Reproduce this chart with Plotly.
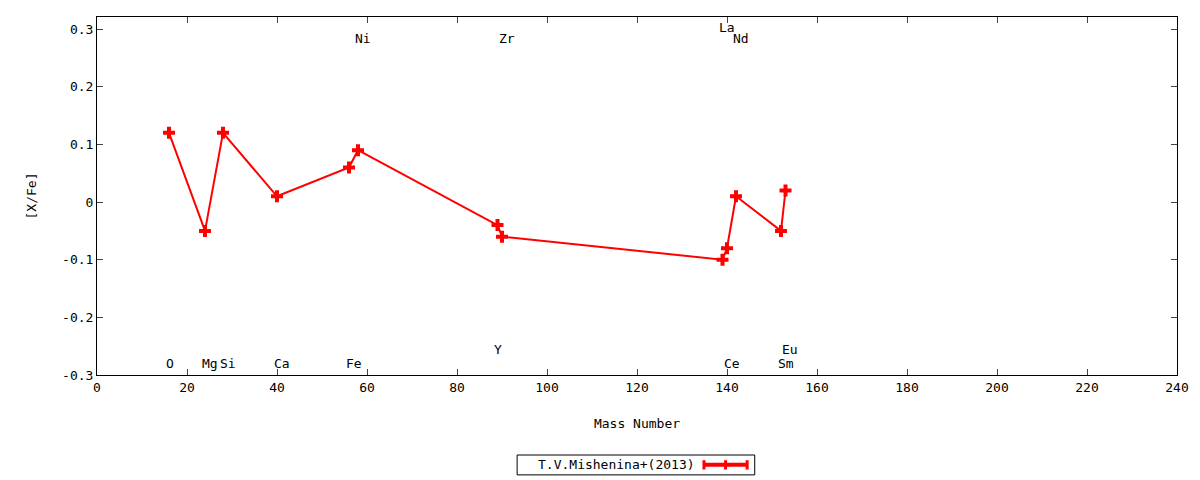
import plotly.graph_objects as go

# element abundances [X/Fe] vs mass number
elements = ["O", "Mg", "Si", "Ca", "Fe", "Ni", "Y", "Zr", "La", "Ce", "Nd", "Sm", "Eu"]
mass_number = [16, 24, 28, 40, 56, 58, 89, 90, 139, 140, 142, 152, 153]
x_fe = [0.12, -0.05, 0.12, 0.01, 0.06, 0.09, -0.04, -0.06, -0.10, -0.08, 0.01, -0.05, 0.02]
# label rows: where each element name is written
label_y = [-0.28, -0.28, -0.28, -0.28, -0.28, 0.284, -0.256, 0.284, 0.302, -0.28, 0.284, -0.28, -0.256]

y_ticks = [-0.3, -0.2, -0.1, 0, 0.1, 0.2, 0.3]
y_tick_text = ["-0.3", "-0.2", "-0.1", "0", "0.1", "0.2", "0.3"]

font = "DejaVu Sans Mono"
red = "#ff0000"
fsize = 13

fig = go.Figure()
fig.add_trace(go.Scatter(x=mass_number, y=x_fe, mode="lines+markers",
                         name="T.V.Mishenina+(2013)",
                         line=dict(color=red, width=2),
                         marker=dict(symbol="cross", size=10, color=red),
                         showlegend=False))

for el, m, ly in zip(elements, mass_number, label_y):
    fig.add_annotation(x=m - 1.2, y=ly, text=el, showarrow=False, xanchor="left",
                       font=dict(family=font, size=fsize, color="black"))

# legend box drawn by hand (gnuplot style: text left, sample right)
fig.add_shape(type="rect", xref="paper", yref="paper", x0=0.389, x1=0.609, y0=-0.279, y1=-0.2235,
              line=dict(color="black", width=1))
fig.add_annotation(xref="paper", yref="paper", x=0.556, y=-0.251, text="T.V.Mishenina+(2013)",
                   showarrow=False, xanchor="right", yanchor="middle",
                   font=dict(family=font, size=fsize, color="black"))
fig.add_shape(type="line", xref="paper", yref="paper", x0=0.562, x1=0.602, y0=-0.251, y1=-0.251,
              line=dict(color=red, width=4))
for lx in [0.562, 0.582, 0.602]:
    fig.add_shape(type="line", xref="paper", yref="paper", x0=lx, x1=lx, y0=-0.264, y1=-0.238,
                  line=dict(color=red, width=3))

fig.update_layout(
    width=1192, height=472,
    margin=dict(l=89, r=23, t=9, b=105),
    plot_bgcolor="white", paper_bgcolor="white",
    font=dict(family=font, size=fsize, color="black"),
)
fig.update_xaxes(range=[0, 240], dtick=20, tick0=0, ticks="inside", ticklen=6,
                 tickfont=dict(family=font, size=fsize),
                 showline=True, linecolor="black", linewidth=1, mirror="allticks",
                 showgrid=False, zeroline=False,
                 title=dict(text="Mass Number", standoff=25, font=dict(family=font, size=fsize)))
fig.update_yaxes(range=[-0.3, 0.321], tickvals=y_ticks, ticktext=y_tick_text,
                 ticks="inside", ticklen=6,
                 tickfont=dict(family=font, size=fsize),
                 showline=True, linecolor="black", linewidth=1, mirror="allticks",
                 showgrid=False, zeroline=False,
                 title=dict(text="[X/Fe]", standoff=22, font=dict(family=font, size=fsize)))

fig.write_html("out.html")
